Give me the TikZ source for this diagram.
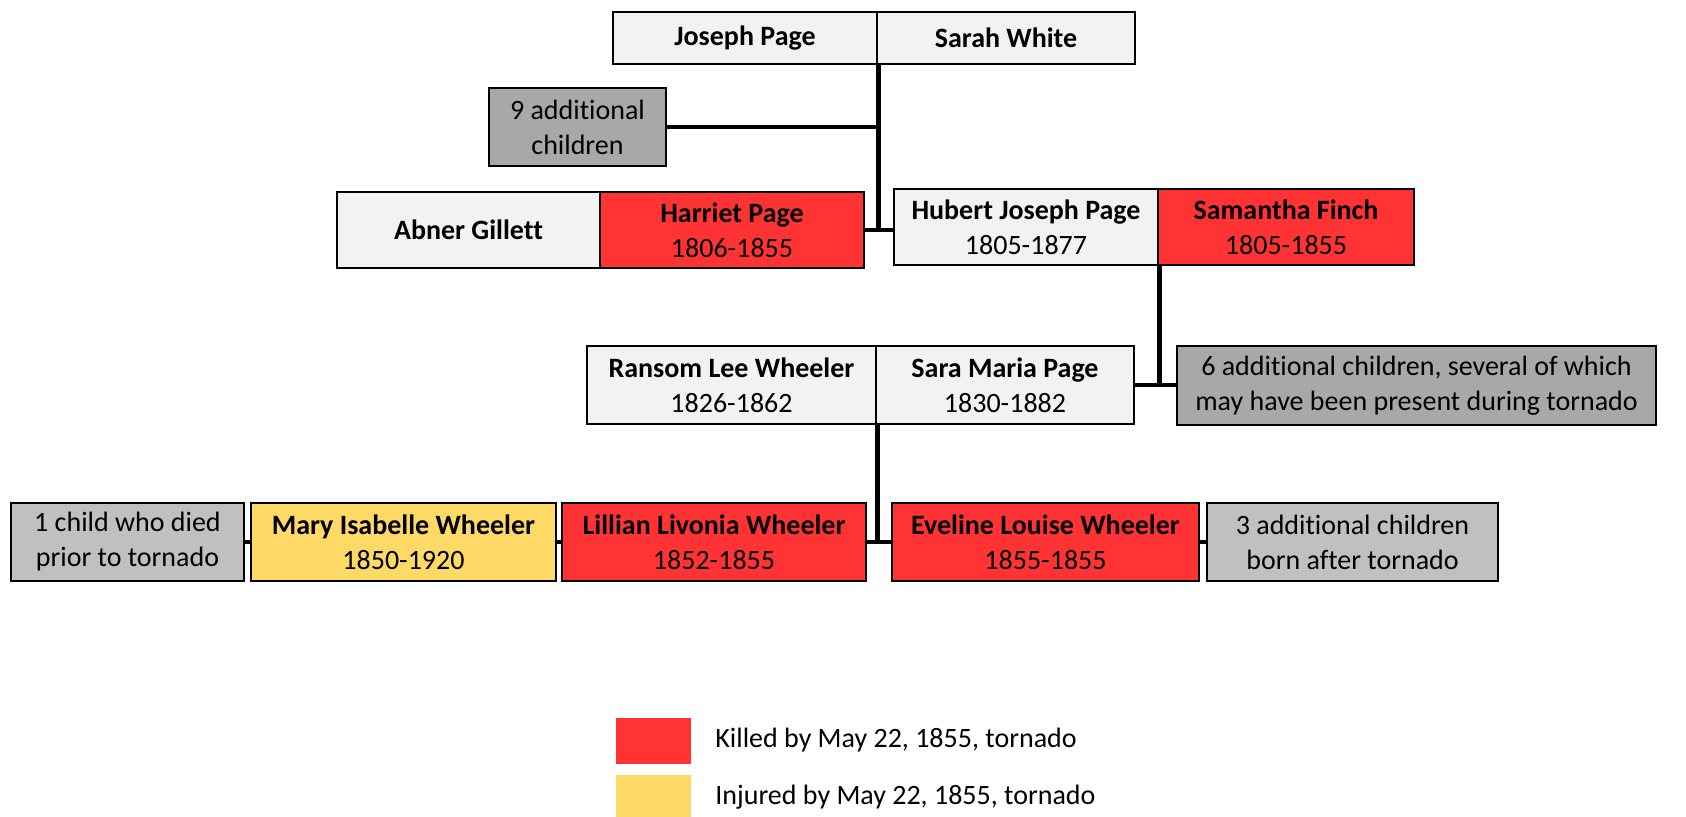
\documentclass[tikz,border=0pt]{standalone}
\usepackage{fontspec}
\setmainfont[Ligatures=NoCommon]{Carlito}
\definecolor{kred}{HTML}{FF3333}
\definecolor{iyel}{HTML}{FFD966}
\definecolor{lbox}{HTML}{F2F2F2}
\definecolor{dgray}{HTML}{A8A8A8}
\definecolor{mgray}{HTML}{C0C0C0}
\tikzset{
  wh/.style 2 args={minimum width=#1*0.5pt, minimum height=#2*0.5pt},
  person/.style={draw=black, line width=1.3pt, inner sep=0pt, align=center,
    font=\fontsize{14}{17.5}\selectfont},
  conn/.style={draw=black, line width=2.4pt},
}
\newcommand{\nmx}[1]{\textbf{#1}}
\begin{document}
\begin{tikzpicture}[x=0.5pt, y=-0.5pt]
\useasboundingbox (0,0) rectangle (1686,817);
% row 1
\node[person, fill=lbox, wh={264}{52}] (jp) at (745,38) {\nmx{Joseph Page}};
\node[person, fill=lbox, wh={258}{52}] (sw) at (1006,38) {\nmx{Sarah White}};
\node[person, fill=dgray, wh={177}{78}] (add9) at (577.5,127) {9 additional\\children};
% row 2
\node[person, fill=lbox, wh={263}{76}] (abner) at (468.5,230) {\nmx{Abner Gillett}};
\node[person, fill=kred, wh={264}{76}] (hp) at (732,230) {\nmx{Harriet Page}\\1806-1855};
\node[person, fill=lbox, wh={264}{76}] (hjp) at (1026,227) {\nmx{Hubert Joseph Page}\\1805-1877};
\node[person, fill=kred, wh={256}{76}] (sf) at (1286,227) {\nmx{Samantha Finch}\\1805-1855};
% row 3
\node[person, fill=lbox, wh={289}{78}] (rlw) at (731.5,385) {\nmx{Ransom Lee Wheeler}\\1826-1862};
\node[person, fill=lbox, wh={258}{78}] (smp) at (1005,385) {\nmx{Sara Maria Page}\\1830-1882};
\node[person, fill=dgray, wh={479}{79}] (add6) at (1416.5,385.5) {6 additional children, several of which\\may have been present during tornado};
% row 4
\node[person, fill=mgray, wh={233}{78}] (c1) at (127.5,542) {1 child who died\\prior to tornado};
\node[person, fill=iyel, wh={305}{78}] (miw) at (403.5,542) {\nmx{Mary Isabelle Wheeler}\\1850-1920};
\node[person, fill=kred, wh={304}{78}] (llw) at (714,542) {\nmx{Lillian Livonia Wheeler}\\1852-1855};
\node[person, fill=kred, wh={307}{78}] (elw) at (1045.5,542) {\nmx{Eveline Louise Wheeler}\\1855-1855};
\node[person, fill=mgray, wh={291}{78}] (add3) at (1352.5,542) {3 additional children\\born after tornado};
% connectors
\draw[conn] (jp.south east) -- (jp.south east |- hp.east);
\draw[conn] (add9.east) -- (add9.east -| jp.south east);
\draw[conn] (hp.east) -- (hjp.west |- hp.east);
\draw[conn] (hjp.south east) -- (hjp.south east |- smp.east);
\draw[conn] (smp.east) -- (add6.west |- smp.east);
\draw[conn] (rlw.south east) -- (rlw.south east |- llw.east);
\draw[conn] (llw.east) -- (elw.west);
\draw[conn] (c1.east) -- (miw.west);
\draw[conn] (miw.east) -- (llw.west);
\draw[conn] (elw.east) -- (add3.west);
% legend
\node[fill=kred, inner sep=0pt, wh={75}{46}] (lgk) at (653.5,741) {};
\node[fill=iyel, inner sep=0pt, wh={75}{42}] (lgi) at (653.5,796) {};
\node[anchor=west, inner sep=0pt, font=\fontsize{14}{17}\selectfont] (lgkt) at (715,740) {Killed by May 22, 1855, tornado};
\node[anchor=west, inner sep=0pt, font=\fontsize{14}{17}\selectfont] (lgit) at (715,797) {Injured by May 22, 1855, tornado};
\end{tikzpicture}
\end{document}
